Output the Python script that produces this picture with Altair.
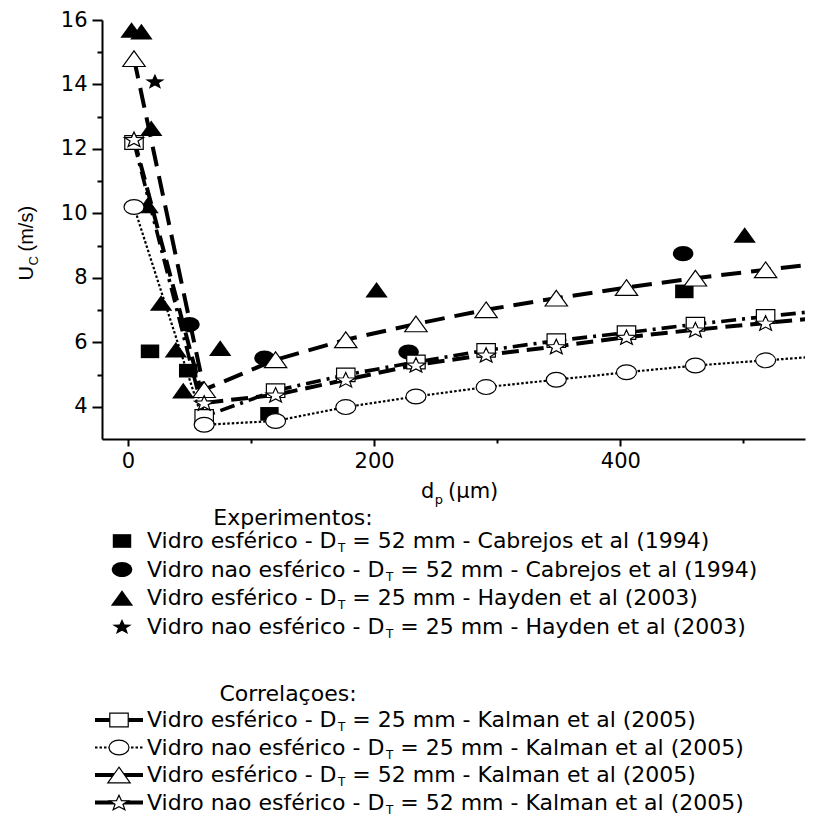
import math
import altair as alt
import pandas as pd

# ---------------- data ----------------
# Kalman et al (2005) correlations, common dp grid (um)
corr_x = [5, 62, 120, 177, 234, 291, 348, 405, 461, 518, 575]
kal_esf25 = [12.2, 3.70, 4.50, 4.99, 5.39, 5.75, 6.05, 6.30, 6.56, 6.80, 7.03]
kal_nao25 = [10.2, 3.44, 3.56, 3.99, 4.32, 4.61, 4.84, 5.07, 5.28, 5.44, 5.60]
kal_esf52 = [14.8, 4.53, 5.46, 6.08, 6.57, 7.01, 7.37, 7.70, 7.99, 8.25, 8.50]
kal_nao52 = [12.3, 4.12, 4.37, 4.84, 5.30, 5.61, 5.87, 6.16, 6.39, 6.60, 6.80]

# Experiments
cab_esf_x = [18, 49, 115, 452]
cab_esf_y = [5.72, 5.12, 3.78, 7.58]
cab_nao_x = [50, 111, 228, 451]
cab_nao_y = [6.55, 5.51, 5.70, 8.75]
hay_esf_x = [3, 11, 19, 16, 27, 39, 45, 75, 202, 501]
hay_esf_y = [15.69, 15.64, 12.64, 10.25, 7.22, 5.77, 4.50, 5.82, 7.63, 9.33]
hay_nao_x = [22]
hay_nao_y = [14.1]

exp_labels = [
    "Vidro esférico - D_T = 52 mm - Cabrejos et al (1994)",
    "Vidro nao esférico - D_T = 52 mm - Cabrejos et al (1994)",
    "Vidro esférico - D_T = 25 mm - Hayden et al (2003)",
    "Vidro nao esférico - D_T = 25 mm - Hayden et al (2003)",
]
corr_labels = [
    "Vidro esférico - D_T = 25 mm - Kalman et al (2005)",
    "Vidro nao esférico - D_T = 25 mm - Kalman et al (2005)",
    "Vidro esférico - D_T = 52 mm - Kalman et al (2005)",
    "Vidro nao esférico - D_T = 52 mm - Kalman et al (2005)",
]
x_ticks = [0, 100, 200, 300, 400, 500]
y_ticks = [4, 5, 6, 7, 8, 9, 10, 11, 12, 13, 14, 15, 16]

# ---------------- layout / style ----------------
FONT = "DejaVu Sans"
TFONT = "Liberation Sans"
W, H = 703, 419
PAD = {"left": 94, "top": 12, "right": 1, "bottom": 380}
xs = alt.Scale(domain=[-21, 550], nice=False, zero=False)
ys = alt.Scale(domain=[3, 16], nice=False, zero=False)

# symbols (slightly wider than tall, like the reference)
SQ = "M-1,-0.74L1,-0.74L1,0.74L-1,0.74Z"
CI = "M-1,0A1,0.74,0,1,0,1,0A1,0.74,0,1,0,-1,0Z"
TR = "M0,-0.7L1,0.7L-1,0.7Z"
_pts = []
for k in range(10):
    a = math.radians(-90 + 36 * k)
    r = 1.0 if k % 2 == 0 else 0.42
    _pts.append(f"{r*math.cos(a):.3f},{(r*math.sin(a)+0.095)*0.8:.3f}")
ST = "M" + "L".join(_pts) + "Z"

xaxis = alt.Axis(
    values=x_ticks, title=None, grid=False,
    labelExpr="datum.value % 200 === 0 ? datum.label : ''",
    tickSize={"condition": {"test": "datum.value % 200 === 0", "value": 7}, "value": 4},
    labelPadding=4, labelFont=FONT, labelFontSize=21, labelColor="black",
    domainColor="black", domainWidth=2, tickColor="black", tickWidth=2,
    labelFlush=False, labelOverlap=False,
)
yaxis = alt.Axis(
    values=y_ticks, title=None, grid=False,
    labelExpr="datum.value % 2 === 0 ? datum.label : ''",
    tickSize={"condition": {"test": "datum.value % 2 === 0", "value": 10}, "value": 5},
    labelPadding=5, labelFont=FONT, labelFontSize=21, labelColor="black",
    domainColor="black", domainWidth=2, tickColor="black", tickWidth=2,
    labelFlush=False, labelOverlap=False,
)


def enc(ch):
    return ch.encode(
        x=alt.X("x:Q", scale=xs, axis=xaxis),
        y=alt.Y("y:Q", scale=ys, axis=yaxis),
    )


def df(xv, yv):
    return pd.DataFrame({"x": xv, "y": yv})


def pxy(ch, xf="px", yf="py"):
    return ch.encode(x=alt.X(f"{xf}:Q", scale=None, axis=None),
                     y=alt.Y(f"{yf}:Q", scale=None, axis=None))


layers = []

# filled experimental markers
exp_series = [
    (cab_esf_x, cab_esf_y, SQ, 340),
    (cab_nao_x, cab_nao_y, CI, 420),
    (hay_esf_x, hay_esf_y, TR, 500),
    (hay_nao_x, hay_nao_y, ST, 420),
]
for xv, yv, shp, sz in exp_series:
    layers.append(enc(alt.Chart(df(xv, yv)).mark_point(
        shape=shp, filled=True, color="black", opacity=1, size=sz, clip=True)))

# correlation lines + open markers
corr_series = [
    (kal_esf25, SQ, [15, 6, 3, 6], 3.6, 340),
    (kal_nao25, CI, [2.5, 2], 2.2, 400),
    (kal_esf52, TR, [20, 10], 4.0, 500),
    (kal_nao52, ST, [17, 8], 4.0, 400),
]
for yv, shp, dash, sw, sz in corr_series:
    layers.append(enc(alt.Chart(df(corr_x, yv)).mark_line(
        color="black", strokeDash=dash, strokeWidth=sw, clip=True)))
for yv, shp, dash, sw, sz in corr_series:
    layers.append(enc(alt.Chart(df(corr_x, yv)).mark_point(
        shape=shp, filled=True, fill="white", stroke="black", strokeWidth=1.2,
        opacity=1, fillOpacity=1, size=sz, clip=True)))

# ---------------- titles and legend (pixel positions) ----------------
DJV = {' ': 318, '-': 361, 'D': 770, 'V': 684, 'a': 613, 'c': 550,
       'd': 635, 'e': 615, 'é': 615, 'f': 352, 'i': 278, 'n': 634, 'o': 612,
       'r': 411, 's': 521, 'T': 611, 'p': 635}


def tw(s, fs):
    return sum(DJV.get(c, 600) for c in s) * fs / 1000.0


text_rows = []
LFS, SFS, SDY = 22, 12, 4


def add_label(x0, yb, label):
    pre, post = label.split("_T")
    post = post.strip()
    xt = x0 + tw(pre, LFS) + 0.5
    text_rows.append({"px": x0, "py": yb, "t": pre, "fs": LFS})
    text_rows.append({"px": xt, "py": yb + SDY, "t": "T", "fs": SFS})
    text_rows.append({"px": xt + tw("T", SFS) + tw(" ", LFS),
                      "py": yb, "t": post, "fs": LFS})


TX = 45          # legend text start (relative to plot origin)
SX = 20          # experiment symbol centre
exp_base = [528, 556.5, 585, 613.5]
corr_base = [707, 734.5, 762, 789.5]
for lab, yb in zip(exp_labels, exp_base):
    add_label(TX, yb, lab)
for lab, yb in zip(corr_labels, corr_base):
    add_label(TX, yb, lab)

# x title d_p (um)
XT0, XFS, XSF = 319, 21, 13
text_rows.append({"px": XT0, "py": 478, "t": "d", "fs": XFS})
xp = XT0 + tw("d", XFS) + 0.5
text_rows.append({"px": xp, "py": 484, "t": "p", "fs": XSF})
text_rows.append({"px": xp + tw("p", XSF) + 5, "py": 478, "t": "(μm)", "fs": XFS})

tdf = pd.DataFrame(text_rows)
layers.append(pxy(alt.Chart(tdf).mark_text(
    align="left", baseline="alphabetic", font=FONT, color="black", fill="black")).encode(
    text="t:N", size=alt.Size("fs:Q", scale=None, legend=None)))

# section headers
hdf = pd.DataFrame({"px": [191, 186], "py": [505, 681],
                    "t": ["Experimentos:", "Correlaçoes:"]})
layers.append(pxy(alt.Chart(hdf).mark_text(
    align="center", baseline="alphabetic", font=FONT, fontSize=22, color="black")).encode(
    text="t:N"))

# y title  U_C (m/s), rotated
YB = -69
ydf1 = pd.DataFrame({"px": [YB], "py": [246], "t": ["U"]})
ydf2 = pd.DataFrame({"px": [YB + 5, YB], "py": [245.5, 231.5], "t": ["C", "(m/s)"],
                     "fs": [13, 20]})
layers.append(pxy(alt.Chart(ydf1).mark_text(
    align="right", baseline="alphabetic", angle=270, font=TFONT, fontSize=20,
    color="black")).encode(text="t:N"))
layers.append(pxy(alt.Chart(ydf2).mark_text(
    align="left", baseline="alphabetic", angle=270, font=TFONT,
    color="black")).encode(
    text="t:N", size=alt.Size("fs:Q", scale=None, legend=None)))

# legend symbols: experiments (filled)
for (xv, yv, shp, sz), yb in zip(exp_series, exp_base):
    layers.append(pxy(alt.Chart(pd.DataFrame({"px": [SX], "py": [yb - 7]})).mark_point(
        shape=shp, filled=True, color="black", opacity=1, size=sz)))

# legend symbols: correlations (line + open marker)
leg_dash = [[1, 0], [2.5, 2], [1, 0], [1, 0]]
for (yv, shp, dash, sw, sz), yb, ld in zip(corr_series, corr_base, leg_dash):
    ldf = pd.DataFrame({"px": [-7], "px2": [41], "py": [yb - 7], "mx": [17]})
    layers.append(alt.Chart(ldf).mark_rule(
        color="black", strokeWidth=(2.2 if sw < 3 else 4), strokeDash=ld).encode(
        x=alt.X("px:Q", scale=None, axis=None), x2="px2:Q",
        y=alt.Y("py:Q", scale=None, axis=None)))
    layers.append(pxy(alt.Chart(ldf).mark_point(
        shape=shp, filled=True, fill="white", stroke="black", strokeWidth=1.2,
        opacity=1, fillOpacity=1, size=sz), xf="mx"))

chart = alt.layer(*layers).properties(
    width=W, height=H, padding=PAD, autosize=alt.AutoSizeParams(type="none"),
    background="white",
).configure_view(stroke=None)

chart.save("out.html", embed_options={"renderer": "svg", "actions": False})
